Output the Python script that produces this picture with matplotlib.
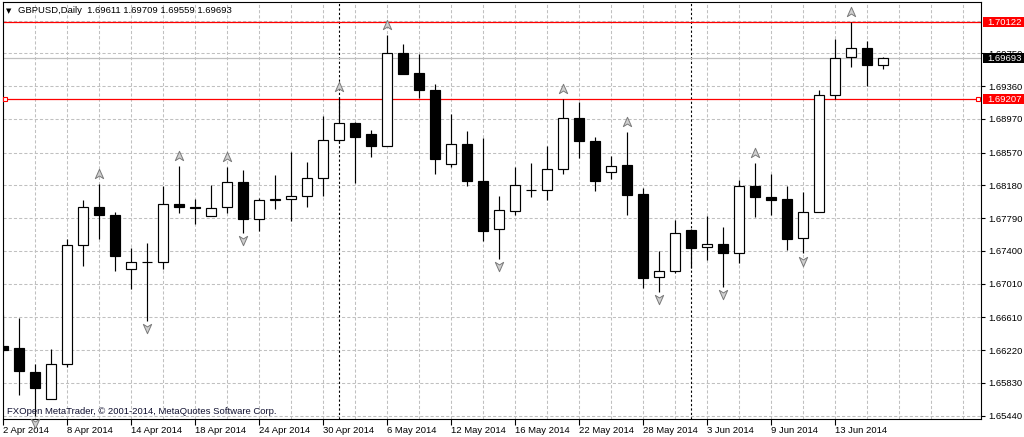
import numpy as np
import pandas as pd
import matplotlib
matplotlib.use("Agg")
import matplotlib.pyplot as plt
from matplotlib.patches import Rectangle
from matplotlib.path import Path
from matplotlib import transforms

# GBPUSD daily bars, 2 Apr - 18 Jun 2014
opens = [1.66274, 1.66247, 1.65962, 1.65637, 1.66053, 1.67467, 1.67919, 1.67824, 1.67182, 1.67265,
         1.67268, 1.67954, 1.67919, 1.67812, 1.67919, 1.68216, 1.67783, 1.68002, 1.68014, 1.68049,
         1.68263, 1.68715, 1.68917, 1.68786, 1.68651, 1.69749, 1.69514, 1.69312, 1.68430, 1.68667,
         1.68235, 1.67664, 1.67878, 1.68125, 1.68121, 1.68370, 1.68980, 1.68706, 1.68335, 1.68421,
         1.68077, 1.67087, 1.67162, 1.67649, 1.67443, 1.67486, 1.67372, 1.68172, 1.68041, 1.68017,
         1.67550, 1.67863, 1.69249, 1.69708, 1.69820, 1.69611]
highs = [1.66639, 1.66603, 1.66057, 1.66235, 1.67538, 1.68005, 1.68199, 1.67863, 1.67431, 1.67498,
         1.68172, 1.68409, 1.68021, 1.68180, 1.68401, 1.68358, 1.68029, 1.68302, 1.68572, 1.68460,
         1.69004, 1.69233, 1.68936, 1.68837, 1.69966, 1.69859, 1.69740, 1.69380, 1.69027, 1.68825,
         1.68746, 1.68053, 1.68401, 1.68445, 1.68647, 1.69202, 1.69170, 1.68754, 1.68528, 1.68813,
         1.68144, 1.67399, 1.67768, 1.67655, 1.67815, 1.67688, 1.68243, 1.68449, 1.68314, 1.68172,
         1.68100, 1.69312, 1.69918, 1.70120, 1.69895, 1.69709]
lows = [1.66191, 1.65688, 1.65439, 1.65637, 1.66024, 1.67225, 1.67546, 1.67165, 1.66951, 1.66571,
        1.67189, 1.67854, 1.67720, 1.67812, 1.67854, 1.67617, 1.67641, 1.67895, 1.67759, 1.67919,
        1.68056, 1.68686, 1.68211, 1.68520, 1.68651, 1.69506, 1.69221, 1.68311, 1.68394, 1.68175,
        1.67522, 1.67308, 1.67824, 1.68045, 1.68005, 1.68311, 1.68508, 1.68116, 1.68258, 1.67824,
        1.66963, 1.66916, 1.67134, 1.67194, 1.67292, 1.66975, 1.67260, 1.67800, 1.67827, 1.67411,
        1.67372, 1.67859, 1.69206, 1.69589, 1.69360, 1.69559]
closes = [1.66215, 1.65965, 1.65763, 1.66053, 1.67467, 1.67919, 1.67831, 1.67343, 1.67265, 1.67268,
          1.67954, 1.67919, 1.67915, 1.67907, 1.68216, 1.67783, 1.68002, 1.68014, 1.68049, 1.68263,
          1.68715, 1.68917, 1.68750, 1.68651, 1.69749, 1.69506, 1.69309, 1.68496, 1.68667, 1.68235,
          1.67641, 1.67883, 1.68180, 1.68121, 1.68370, 1.68980, 1.68703, 1.68235, 1.68406, 1.68068,
          1.67082, 1.67162, 1.67610, 1.67439, 1.67483, 1.67372, 1.68168, 1.68037, 1.68009, 1.67546,
          1.67863, 1.69249, 1.69701, 1.69820, 1.69613, 1.69693]

dates = pd.bdate_range("2014-04-02", "2014-06-18")

# bar indices carrying fractal arrows
up_fractals = [6, 11, 14, 21, 24, 35, 39, 47, 53]
down_fractals = [2, 9, 15, 31, 41, 45, 50]

price_ticks = [1.65440, 1.65830, 1.66220, 1.66610, 1.67010, 1.67400, 1.67790,
               1.68180, 1.68570, 1.68970, 1.69360, 1.69750]
extra_grid = [1.70140]
hlines = [1.70122, 1.69207]
bid = 1.69693
title = "GBPUSD,Daily  1.69611 1.69709 1.69559 1.69693"
copyright_txt = "FXOpen MetaTrader, \u00a9 2001-2014, MetaQuotes Software Corp."

plt.rcParams['font.family'] = ['Liberation Sans', 'DejaVu Sans']
FS = 6.8

W, H = 1024, 437
fig = plt.figure(figsize=(W / 100, H / 100), dpi=100)
ax_l, ax_r, ax_t, ax_b = 3.0, 981.3, 2.3, 418.7
ax = fig.add_axes([ax_l / W, (H - ax_b) / H, (ax_r - ax_l) / W, (ax_b - ax_t) / H])
ax.set_xlim(-0.02, 61.125)
ax.set_ylim(1.65403, 1.70358)

n = len(opens)
x = np.arange(n)
o = np.array(opens); h = np.array(highs); l = np.array(lows); c = np.array(closes)

grid_kw = dict(color='#c0c0c0', lw=0.75, ls=(0, (3, 2)), zorder=0)
for gx in np.arange(0, 62, 2):
    ax.axvline(gx, **grid_kw)
for gy in price_ticks + extra_grid:
    ax.axhline(gy, **grid_kw)

# month separators
for i in range(1, n):
    if dates[i].month != dates[i - 1].month:
        ax.axvline(x[i], color='black', lw=0.8, ls=(0, (2, 2)), zorder=1)

ax.axhline(bid, color='#c0c0c0', lw=0.9, zorder=1)
for v in hlines:
    ax.axhline(v, color='#ff0000', lw=0.9, zorder=1)

# candles
ax.vlines(x, l, h, color='black', lw=0.85, zorder=2)
up = c >= o
body = np.maximum(np.abs(c - o), 0.00002)
ax.bar(x, body, bottom=np.minimum(o, c), width=0.63,
       color=np.where(up, 'white', 'black'), edgecolor='black', linewidth=0.85, zorder=3)

# fractals
arrow_up = Path([(0, 1), (0.8, -0.8), (0, -0.3), (-0.8, -0.8), (0, 1)],
                [Path.MOVETO, Path.LINETO, Path.LINETO, Path.LINETO, Path.CLOSEPOLY])
arrow_dn = Path([(0, -1), (0.8, 0.8), (0, 0.3), (-0.8, 0.8), (0, -1)],
                [Path.MOVETO, Path.LINETO, Path.LINETO, Path.LINETO, Path.CLOSEPOLY])
tr_up = transforms.offset_copy(ax.transData, fig=fig, y=10, units='dots')
tr_dn = transforms.offset_copy(ax.transData, fig=fig, y=-7.5, units='dots')
ax.plot(x[up_fractals], h[up_fractals], ls='none', marker=arrow_up, ms=7.5,
        mfc='#cfcfcf', mec='#7a7a7a', mew=0.7, transform=tr_up, zorder=4, clip_on=False)
ax.plot(x[down_fractals], l[down_fractals], ls='none', marker=arrow_dn, ms=7.5,
        mfc='#cfcfcf', mec='#7a7a7a', mew=0.7, transform=tr_dn, zorder=4, clip_on=False)

# axes styling
for s in ax.spines.values():
    s.set_color('black')
    s.set_linewidth(0.8)
ax.yaxis.tick_right()
ax.set_yticks(price_ticks)
ax.set_yticklabels([f"{v:.5f}" for v in price_ticks])
ax.tick_params(axis='y', length=3, width=0.8, pad=2, labelsize=FS, colors='black')
tick_idx = list(range(0, n, 4))
ax.set_xticks(tick_idx)
ax.set_xticklabels([f"{dates[i].day} {dates[i].strftime('%b %Y')}" for i in tick_idx], ha='left')
ax.tick_params(axis='x', length=4, width=0.8, pad=1.5, labelsize=FS, colors='black')

# price labels on the right axis
px_h = (ax.get_ylim()[1] - ax.get_ylim()[0]) / (ax_b - ax_t)
blend = transforms.blended_transform_factory(ax.transAxes, ax.transData)
box_x0 = (982.7 - ax_l) / (ax_r - ax_l)
txt_x = (987.7 - ax_l) / (ax_r - ax_l)
for v, col in [(hlines[0], '#ff0000'), (hlines[1], '#ff0000'), (bid, 'black')]:
    ax.add_patch(Rectangle((box_x0, v - 4.7 * px_h), 0.06, 9.4 * px_h, transform=blend,
                           facecolor=col, edgecolor='none', clip_on=False, zorder=10))
    ax.text(txt_x, v, f"{v:.5f}", transform=blend, color='white', fontsize=FS,
            va='center', ha='left', clip_on=False, zorder=11)

# selection squares on the lower line
sq_x = [(5.3 - ax_l) / (ax_r - ax_l), (978 - ax_l) / (ax_r - ax_l)]
ax.plot(sq_x, [hlines[1]] * 2, ls='none', marker='s', ms=3.0, mfc='white', mec='#ff0000',
        mew=0.8, transform=blend, zorder=5, clip_on=False)

# header and footer text
ax.text(0.0061, 0.979, "\u25bc", transform=ax.transAxes, fontsize=5, va='center', ha='center',
        family='DejaVu Sans', color='black')
ax.text(0.0153, 0.9795, title, transform=ax.transAxes, fontsize=FS, va='center', ha='left',
        color='black')
ax.text(0.0044, 0.0168, copyright_txt, transform=ax.transAxes, fontsize=FS, va='center',
        ha='left', color='#101030')

fig.savefig("out.png", dpi=100)
